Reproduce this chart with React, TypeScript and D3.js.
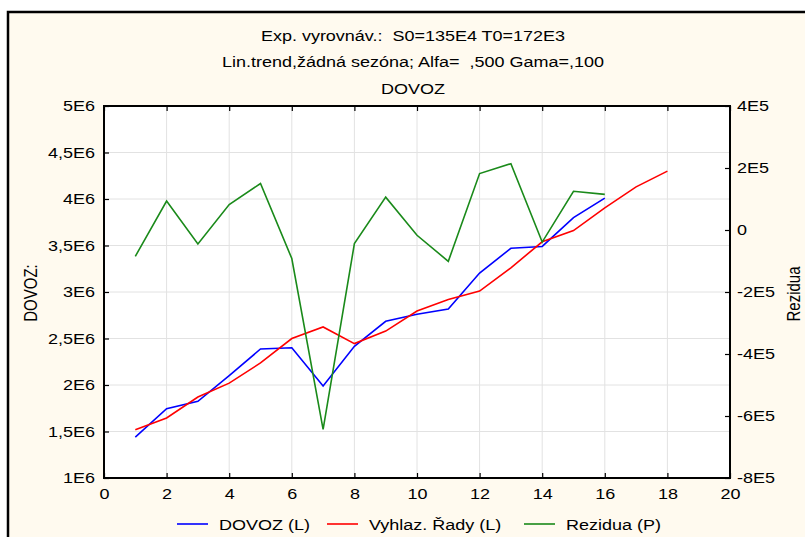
import React, { useEffect, useRef } from "react";
import * as d3 from "d3";

// time index
const periods = d3.range(1, 19);

// DOVOZ (L), t = 1..16
const dovoz = [
  1.44e6, 1.746e6, 1.825e6, 2.1e6, 2.387e6, 2.4e6, 1.99e6, 2.416e6, 2.685e6,
  2.76e6, 2.817e6, 3.204e6, 3.47e6, 3.49e6, 3.8e6, 4.01e6,
];

// Vyhlaz. Řady (L), t = 1..18
const vyhlaz = [
  1.52e6, 1.645e6, 1.871e6, 2.02e6, 2.237e6, 2.5e6, 2.624e6, 2.445e6, 2.58e6,
  2.796e6, 2.92e6, 3.01e6, 3.26e6, 3.54e6, 3.66e6, 3.905e6, 4.13e6, 4.3e6,
];

// Rezidua (P), t = 1..16
const rezidua = [
  -0.85e5, 0.935e5, -0.45e5, 0.82e5, 1.5e5, -0.92e5, -6.43e5, -0.44e5, 1.06e5,
  -0.17e5, -1.01e5, 1.82e5, 2.14e5, -0.39e5, 1.25e5, 1.15e5,
];

const leftTicks = [1e6, 1.5e6, 2e6, 2.5e6, 3e6, 3.5e6, 4e6, 4.5e6, 5e6];
const leftLabels = ["1E6", "1,5E6", "2E6", "2,5E6", "3E6", "3,5E6", "4E6", "4,5E6", "5E6"];
const rightTicks = [-8e5, -6e5, -4e5, -2e5, 0, 2e5, 4e5];
const rightLabels = ["-8E5", "-6E5", "-4E5", "-2E5", "0", "2E5", "4E5"];
const xTicks = d3.range(0, 21, 2);

const titles = [
  "Exp. vyrovnáv.:  S0=135E4 T0=172E3",
  "Lin.trend,žádná sezóna; Alfa=  ,500 Gama=,100",
  "DOVOZ",
];

const series = [
  { name: "DOVOZ (L)", values: dovoz, axis: "L", color: "#0000ff" },
  { name: "Vyhlaz. Řady (L)", values: vyhlaz, axis: "L", color: "#ff0000" },
  { name: "Rezidua (P)", values: rezidua, axis: "P", color: "#1a8a1a" },
];

// the original's text is rendered wide
const SX = 1.2;

const App = () => {
  const svgRef = useRef<SVGSVGElement>(null);

  useEffect(() => {
    const svg = d3.select(svgRef.current);
    svg.selectAll("*").remove();

    const width = 805;
    const height = 537;
    const margin = { top: 106, right: 75, bottom: 59, left: 104 };
    const font = "'Liberation Sans', Arial, sans-serif";

    // outer frame
    svg
      .append("rect")
      .attr("x", 8)
      .attr("y", 12)
      .attr("width", 830)
      .attr("height", 560)
      .attr("fill", "#fffaef")
      .attr("stroke", "#000")
      .attr("stroke-width", 2.5);

    const x = d3
      .scaleLinear()
      .domain([0, 20])
      .range([margin.left, width - margin.right]);
    const yL = d3
      .scaleLinear()
      .domain([1e6, 5e6])
      .range([height - margin.bottom, margin.top]);
    const yR = d3
      .scaleLinear()
      .domain([-8e5, 4e5])
      .range([height - margin.bottom, margin.top]);

    // plot area
    svg
      .append("rect")
      .attr("x", margin.left)
      .attr("y", margin.top)
      .attr("width", width - margin.left - margin.right)
      .attr("height", height - margin.top - margin.bottom)
      .attr("fill", "#fff");

    // grid
    const grid = svg.append("g").attr("stroke", "#e2e2e2").attr("stroke-width", 1);
    xTicks.slice(1, -1).forEach((t) => {
      grid
        .append("line")
        .attr("x1", x(t))
        .attr("x2", x(t))
        .attr("y1", margin.top)
        .attr("y2", height - margin.bottom);
    });
    leftTicks.slice(1, -1).forEach((t) => {
      grid
        .append("line")
        .attr("x1", margin.left)
        .attr("x2", width - margin.right)
        .attr("y1", yL(t))
        .attr("y2", yL(t));
    });

    // lines
    series.forEach((s) => {
      const yScale = s.axis === "L" ? yL : yR;
      const line = d3
        .line<number>()
        .x((_, i) => x(periods[i]))
        .y((d) => yScale(d));
      svg
        .append("path")
        .datum(s.values)
        .attr("d", line)
        .attr("fill", "none")
        .attr("stroke", s.color)
        .attr("stroke-width", 1.6);
    });

    // axes (ticks inside)
    const styleAxis = (g: any) => {
      g.select(".domain").remove();
      g.selectAll("line").attr("stroke", "#000").attr("stroke-width", 1.2);
      g.selectAll("text")
        .style("font-family", font)
        .style("font-size", "15px")
        .attr("fill", "#000")
        .each(function (this: SVGTextElement) {
          const t = d3.select(this);
          const tx = +(t.attr("x") || 0);
          t.attr("x", null).attr("transform", `translate(${tx},0) scale(${SX},1)`);
        });
    };

    svg
      .append("g")
      .attr("transform", `translate(0,${height - margin.bottom})`)
      .call(
        d3.axisBottom(x).tickValues(xTicks).tickSizeInner(-5).tickSizeOuter(0).tickPadding(10).tickFormat(d3.format("d"))
      )
      .call(styleAxis);

    svg
      .append("g")
      .attr("transform", `translate(0,${margin.top})`)
      .call(d3.axisTop(x).tickValues(xTicks).tickSizeInner(-5).tickSizeOuter(0).tickFormat(() => ""))
      .call(styleAxis);

    svg
      .append("g")
      .attr("transform", `translate(${margin.left},0)`)
      .call(
        d3
          .axisLeft(yL)
          .tickValues(leftTicks)
          .tickSizeInner(-5)
          .tickSizeOuter(0)
          .tickPadding(9)
          .tickFormat((_, i) => leftLabels[i])
      )
      .call(styleAxis);

    svg
      .append("g")
      .attr("transform", `translate(${width - margin.right},0)`)
      .call(
        d3
          .axisRight(yR)
          .tickValues(rightTicks)
          .tickSizeInner(-5)
          .tickSizeOuter(0)
          .tickPadding(7)
          .tickFormat((_, i) => rightLabels[i])
      )
      .call(styleAxis);

    // plot frame
    svg
      .append("rect")
      .attr("x", margin.left)
      .attr("y", margin.top)
      .attr("width", width - margin.left - margin.right)
      .attr("height", height - margin.top - margin.bottom)
      .attr("fill", "none")
      .attr("stroke", "#000")
      .attr("stroke-width", 2);

    // titles
    titles.forEach((t, i) => {
      svg
        .append("text")
        .attr("transform", `translate(413,${40.5 + i * 26.7}) scale(${SX},1)`)
        .attr("text-anchor", "middle")
        .attr("xml:space", "preserve")
        .style("font-family", font)
        .style("font-size", "15px")
        .attr("fill", "#000")
        .text(t);
    });

    // axis titles
    svg
      .append("text")
      .attr("transform", `translate(37,293) rotate(-90) scale(1,${SX})`)
      .attr("text-anchor", "middle")
      .style("font-family", font)
      .style("font-size", "15px")
      .text("DOVOZ:");

    svg
      .append("text")
      .attr("transform", `translate(800,294) rotate(-90) scale(1,${SX})`)
      .attr("text-anchor", "middle")
      .style("font-family", font)
      .style("font-size", "15px")
      .text("Rezidua");

    // legend
    const legendX = [177, 327, 524];
    series.forEach((s, i) => {
      const row = svg.append("g").attr("transform", `translate(${legendX[i]},524)`);
      row
        .append("line")
        .attr("x1", 0)
        .attr("x2", 31)
        .attr("stroke", s.color)
        .attr("stroke-width", 1.6);
      row
        .append("text")
        .attr("transform", `translate(42,5.5) scale(${SX},1)`)
        .style("font-family", font)
        .style("font-size", "15px")
        .text(s.name);
    });
  }, []);

  return (
    <svg
      ref={svgRef}
      width={805}
      height={537}
      style={{ position: "absolute", left: 0, top: 0, background: "#fff" }}
    />
  );
};

export default App;
